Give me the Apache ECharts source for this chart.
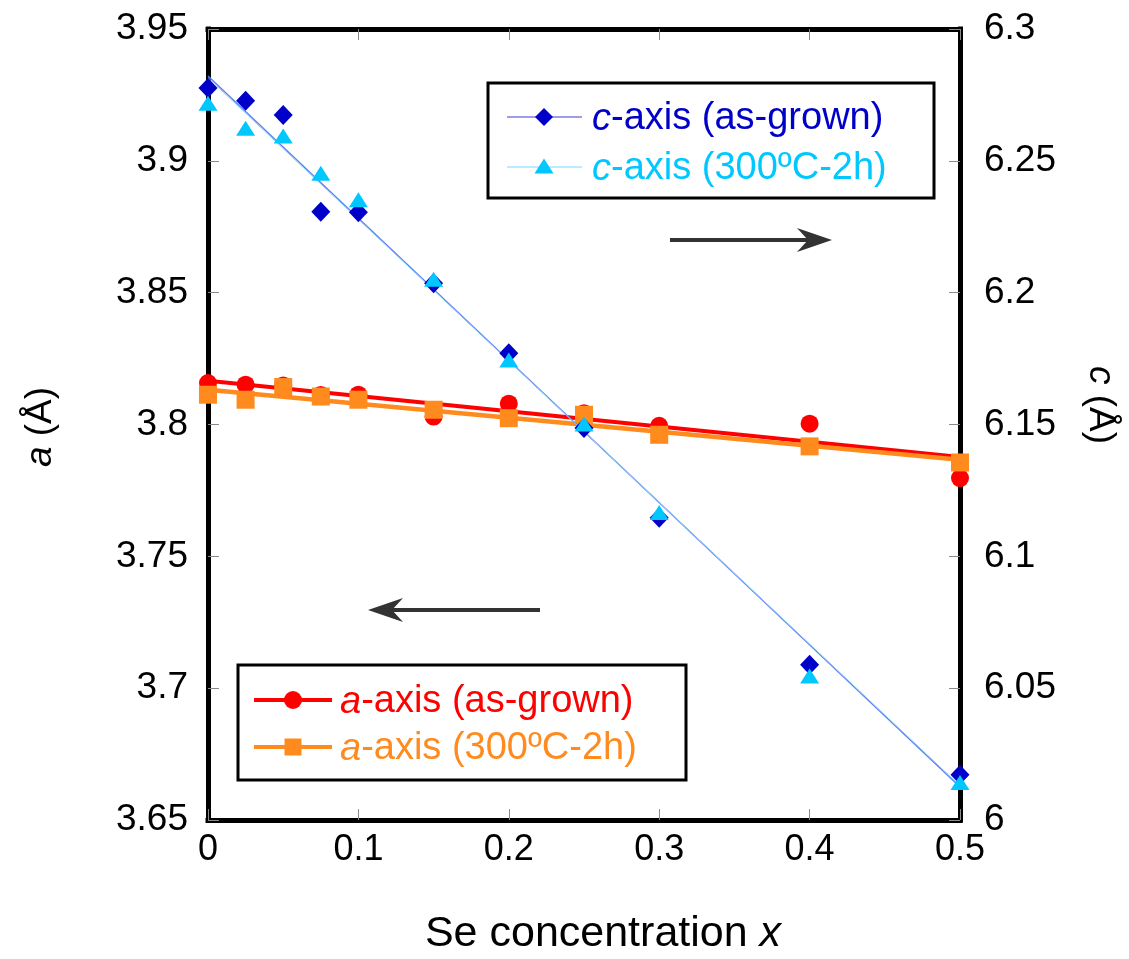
<!DOCTYPE html>
<html>
<head>
<meta charset="utf-8">
<script src="https://cdn.jsdelivr.net/npm/echarts@6/dist/echarts.min.js"></script>
<style>
html,body{margin:0;padding:0;background:#fff;}
#chart{width:1129px;height:959px;}
</style>
</head>
<body>
<div id="chart"></div>
<script>
// ---- data ----
var seX = [0, 0.025, 0.05, 0.075, 0.1, 0.15, 0.2, 0.25, 0.3, 0.4, 0.5];
var aAsGrown = [3.8157, 3.8151, 3.8148, 3.8112, 3.8113, 3.8030, 3.8079, 3.8043, 3.7995, 3.8003, 3.7797];
var aAnnealed = [3.8113, 3.8094, 3.8142, 3.8106, 3.8094, 3.8056, 3.8024, 3.8037, 3.7961, 3.7917, 3.7856];
var cAsGrown = [6.2776, 6.2728, 6.2674, 6.2307, 6.2305, 6.2036, 6.1770, 6.1487, 6.1146, 6.0589, 6.0172];
var cAnnealed = [6.2718, 6.2624, 6.2594, 6.2453, 6.2352, 6.2051, 6.1745, 6.1502, 6.1166, 6.0546, 6.0142];
var fitX = [0, 0.5];
var aFitAsGrown = [3.8166, 3.7877];
var aFitAnnealed = [3.8132, 3.7866];
var cFitAsGrown = [6.2822, 6.0125];
var cFitAnnealed = [6.2815, 6.0130];
var xTicks = [0, 0.1, 0.2, 0.3, 0.4, 0.5];
var aTicks = [3.65, 3.7, 3.75, 3.8, 3.85, 3.9, 3.95];
var cTicks = [6, 6.05, 6.1, 6.15, 6.2, 6.25, 6.3];

var legendA = ['a-axis (as-grown)', 'a-axis (300ºC-2h)'];
var legendC = ['c-axis (as-grown)', 'c-axis (300ºC-2h)'];

function pairs(xs, ys){ return xs.map(function(x,i){ return [x, ys[i]]; }); }

var FONT = 'Liberation Sans, Arial, Helvetica, sans-serif';
var RED = '#ff0000', ORANGE = '#ff8a1e', BLUE = '#0000c8', CYAN = '#00c8ff';

var chart = echarts.init(document.getElementById('chart'), null, {renderer:'canvas'});

function diamond(cx, cy, s, color){
  return {type:'polygon', shape:{points:[[cx,cy-s/2],[cx+s/2,cy],[cx,cy+s/2],[cx-s/2,cy]]}, style:{fill:color}, z:10};
}
function triangle(cx, cy, w, h, color){
  return {type:'polygon', shape:{points:[[cx,cy-h/2],[cx+w/2,cy+h/2],[cx-w/2,cy+h/2]]}, style:{fill:color}, z:10};
}
function richLabel(txt){
  return '{i|' + txt.charAt(0) + '}' + txt.slice(1);
}
function legendText(x, y, txt, color){
  return {type:'text', x:x, y:y, z:10, style:{
    text: richLabel(txt), fill: color, font: '38px ' + FONT, verticalAlign:'middle', align:'left',
    rich:{ i:{fontStyle:'italic', fontSize:38, fontFamily:FONT, fill:color} }
  }};
}
function arrow(x1, x2, y){
  var dir = x2 > x1 ? 1 : -1;
  var tip = x2, back = x2 - dir*35, notch = x2 - dir*24;
  return [
    {type:'line', shape:{x1:x1, y1:y, x2:notch, y2:y}, style:{stroke:'#333', lineWidth:4}, z:10},
    {type:'polygon', shape:{points:[[tip,y],[back,y-12],[notch,y],[back,y+12]]}, style:{fill:'#333'}, z:10}
  ];
}

var graphics = [
  // c legend
  {type:'rect', shape:{x:488, y:83, width:446, height:115}, style:{fill:'#fff', stroke:'#000', lineWidth:3}, z:9},
  {type:'line', shape:{x1:507, y1:117, x2:582, y2:117}, style:{stroke:'#3a3ad0', lineWidth:1}, z:10},
  diamond(544, 117, 18, BLUE),
  legendText(592, 119, legendC[0], BLUE),
  {type:'line', shape:{x1:507, y1:167, x2:582, y2:167}, style:{stroke:'#6fdcff', lineWidth:1}, z:10},
  triangle(544, 166, 19, 15, CYAN),
  legendText(592, 169, legendC[1], CYAN),
  // a legend
  {type:'rect', shape:{x:238, y:665, width:448, height:115}, style:{fill:'#fff', stroke:'#000', lineWidth:3}, z:9},
  {type:'line', shape:{x1:254, y1:700, x2:332, y2:700}, style:{stroke:RED, lineWidth:4}, z:10},
  {type:'circle', shape:{cx:293, cy:700, r:9}, style:{fill:RED}, z:10},
  legendText(340, 702, legendA[0], RED),
  {type:'line', shape:{x1:254, y1:747, x2:332, y2:747}, style:{stroke:ORANGE, lineWidth:4}, z:10},
  {type:'rect', shape:{x:284.5, y:738.5, width:17, height:17}, style:{fill:ORANGE}, z:10},
  legendText(340, 749, legendA[1], ORANGE),
  // axis titles
  {type:'text', x:41, y:427, rotation:Math.PI/2, z:10, style:{
    text:'{i|a} (Å)', font:'37px ' + FONT, fill:'#000', align:'center', verticalAlign:'middle',
    rich:{i:{fontStyle:'italic', fontSize:37, fontFamily:FONT}}
  }},
  {type:'text', x:1100, y:405, rotation:-Math.PI/2, z:10, style:{
    text:'{i|c} (Å)', font:'37px ' + FONT, fill:'#000', align:'center', verticalAlign:'middle',
    rich:{i:{fontStyle:'italic', fontSize:37, fontFamily:FONT}}
  }},
  {type:'text', x:603, y:934, z:10, style:{
    text:'Se concentration {i|x}', font:'43px ' + FONT, fill:'#000', align:'center', verticalAlign:'middle',
    rich:{i:{fontStyle:'italic', fontSize:43, fontFamily:FONT}}
  }}
].concat(arrow(670, 832, 240)).concat(arrow(540, 368, 610));

var tickStyle = {show:true, inside:true, length:11, lineStyle:{color:'#8a8a8a', width:1}};
var frameLine = {show:true, onZero:false, lineStyle:{color:'#000', width:5, cap:'square'}};

var option = {
  animation:false,
  backgroundColor:'#fff',
  grid:{left:208, right:169, top:29, bottom:139, show:false},
  xAxis:[
    {type:'value', min:xTicks[0], max:xTicks[xTicks.length-1], interval:0.1, position:'bottom',
     axisLine:frameLine, axisTick:tickStyle, splitLine:{show:false},
     axisLabel:{fontSize:36, fontFamily:FONT, color:'#000', margin:12}},
    {type:'value', min:xTicks[0], max:xTicks[xTicks.length-1], interval:0.1, position:'top',
     axisLine:frameLine, axisTick:tickStyle, splitLine:{show:false}, axisLabel:{show:false}}
  ],
  yAxis:[
    {type:'value', min:aTicks[0], max:aTicks[aTicks.length-1], interval:0.05, position:'left',
     axisLine:frameLine, axisTick:tickStyle, splitLine:{show:false},
     axisLabel:{fontSize:37, fontFamily:FONT, color:'#000', margin:20}},
    {type:'value', min:cTicks[0], max:cTicks[cTicks.length-1], interval:0.05, position:'right',
     axisLine:frameLine, axisTick:tickStyle, splitLine:{show:false},
     axisLabel:{fontSize:37, fontFamily:FONT, color:'#000', margin:24}}
  ],
  series:[
    {name:'a fit (as-grown)', type:'line', yAxisIndex:0, data:pairs(fitX, aFitAsGrown), showSymbol:false, symbol:'none',
     lineStyle:{color:RED, width:4}, z:2, clip:false, silent:true},
    {name:'a fit (300ºC-2h)', type:'line', yAxisIndex:0, data:pairs(fitX, aFitAnnealed), showSymbol:false, symbol:'none',
     lineStyle:{color:ORANGE, width:4.5}, z:3, clip:false, silent:true},
    {name:legendA[0], type:'scatter', yAxisIndex:0, data:pairs(seX, aAsGrown), symbol:'circle', symbolSize:18,
     itemStyle:{color:RED, opacity:1}, z:4, clip:false},
    {name:legendA[1], type:'scatter', yAxisIndex:0, data:pairs(seX, aAnnealed), symbol:'rect', symbolSize:18,
     itemStyle:{color:ORANGE, opacity:1}, z:5, clip:false},
    {name:'c fit (as-grown)', type:'line', yAxisIndex:1, data:pairs(fitX, cFitAsGrown), showSymbol:false, symbol:'none',
     lineStyle:{color:'#5a7ef0', width:1.3}, z:6, clip:false, silent:true},
    {name:'c fit (300ºC-2h)', type:'line', yAxisIndex:1, data:pairs(fitX, cFitAnnealed), showSymbol:false, symbol:'none',
     lineStyle:{color:'#88ccf8', width:1}, z:6, clip:false, silent:true},
    {name:legendC[0], type:'scatter', yAxisIndex:1, data:pairs(seX, cAsGrown), symbol:'diamond', symbolSize:[19,20],
     itemStyle:{color:BLUE, opacity:1}, z:7, clip:false},
    {name:legendC[1], type:'scatter', yAxisIndex:1, data:pairs(seX, cAnnealed), symbol:'triangle', symbolSize:[19,15],
     itemStyle:{color:CYAN, opacity:1}, z:8, clip:false}
  ],
  graphic: graphics
};
chart.setOption(option);
</script>
</body>
</html>
